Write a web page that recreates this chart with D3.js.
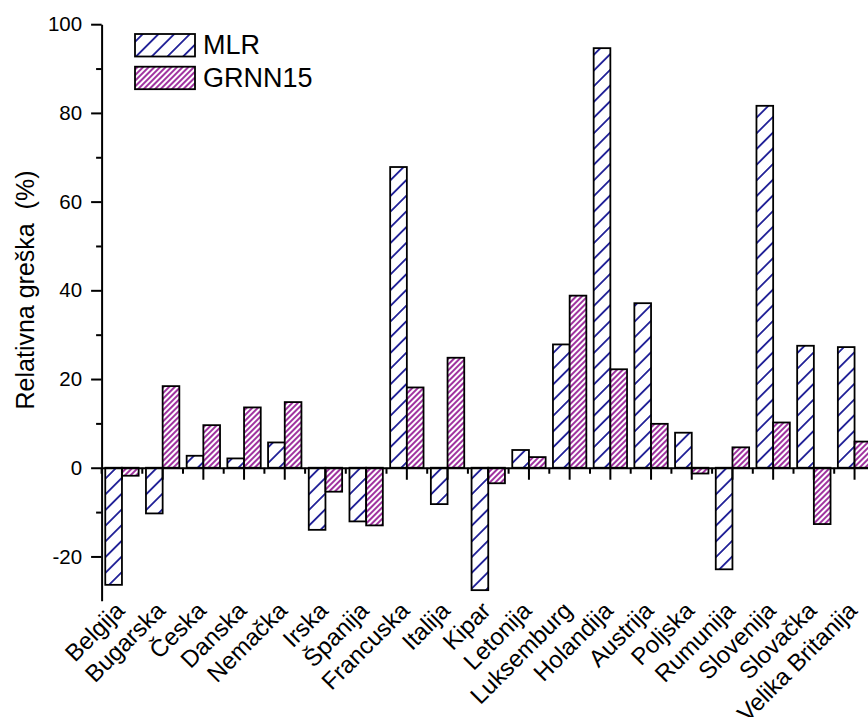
<!DOCTYPE html>
<html>
<head>
<meta charset="utf-8">
<script src="https://cdn.jsdelivr.net/npm/d3@7"></script>
<style>
  html, body { margin: 0; padding: 0; background: #fff; }
  svg { display: block; font-family: "Liberation Sans", Arial, sans-serif; }
</style>
</head>
<body>
<svg id="chart" width="868" height="717"></svg>
<script>
// Relative error of the two models per country
const categories = ["Belgija", "Bugarska", "Česka", "Danska", "Nemačka", "Irska", "Španija",
  "Francuska", "Italija", "Kipar", "Letonija", "Luksemburg", "Holandija", "Austrija",
  "Poljska", "Rumunija", "Slovenija", "Slovačka", "Velika Britanija"];
const seriesNames = ["MLR", "GRNN15"];
const mlrValues = [-26.4, -10.3, 2.7, 2.1, 5.7, -14.0, -12.1, 67.8, -8.2, -27.6, 4.0, 27.8,
  94.6, 37.1, 7.9, -22.9, 81.6, 27.5, 27.2];
const grnnValues = [-1.8, 18.4, 9.6, 13.6, 14.8, -5.4, -13.0, 18.1, 24.8, -3.5, 2.4, 38.8,
  22.2, 9.9, -1.3, 4.6, 10.2, -12.7, 5.9];
const yTickValues = [-20, 0, 20, 40, 60, 80, 100];
const yMinorValues = [-10, 10, 30, 50, 70, 90];
const yTitle = "Relativna greška  (%)";

const svg = d3.select("#chart");
const defs = svg.append("defs");

// Hatch fills: sparse navy "/" for MLR, dense purple "/" for GRNN15
function hatch(id, spacing, color, width) {
  const p = defs.append("pattern")
    .attr("id", id)
    .attr("patternUnits", "userSpaceOnUse")
    .attr("width", spacing)
    .attr("height", spacing)
    .attr("patternTransform", "rotate(45)");
  p.append("rect").attr("width", spacing).attr("height", spacing).attr("fill", "#fff");
  p.append("line")
    .attr("x1", spacing / 2).attr("x2", spacing / 2)
    .attr("y1", -1).attr("y2", spacing + 1)
    .attr("stroke", color).attr("stroke-width", width);
}
hatch("hatch-mlr", 11.1, "#000088", 1.6);
hatch("hatch-grnn", 4.0, "#880088", 1.6);
const fills = { "MLR": "url(#hatch-mlr)", "GRNN15": "url(#hatch-grnn)" };

const x0 = d3.scaleBand().domain(categories).range([101.6, 874.9])
  .paddingInner(0.18).paddingOuter(0.09);
const x1 = d3.scaleBand().domain(seriesNames).range([0, x0.bandwidth()]);
const y = d3.scaleLinear().domain([-30, 100]).range([600.8, 24.2]);

const rows = categories.map((c, i) => ({
  cat: c,
  vals: [{ s: "MLR", v: mlrValues[i] }, { s: "GRNN15", v: grnnValues[i] }]
}));

// Bars
const groups = svg.append("g").selectAll("g").data(rows).join("g")
  .attr("transform", d => `translate(${x0(d.cat)},0)`);
groups.selectAll("rect").data(d => d.vals).join("rect")
  .attr("x", d => x1(d.s))
  .attr("width", x1.bandwidth())
  .attr("y", d => y(Math.max(0, d.v)))
  .attr("height", d => Math.abs(y(d.v) - y(0)))
  .attr("fill", d => fills[d.s])
  .attr("stroke", "#000")
  .attr("stroke-width", 1.8);

// Y axis with major and minor ticks
const yAxis = svg.append("g").attr("transform", "translate(101.6,0)")
  .call(d3.axisLeft(y).tickValues(yTickValues).tickSize(10.5).tickSizeOuter(0).tickPadding(9)
    .tickFormat(d => String(d)));
yAxis.select(".domain").attr("stroke", "#000").attr("stroke-width", 2);
yAxis.selectAll(".tick line").attr("stroke", "#000").attr("stroke-width", 2);
yAxis.selectAll(".tick text").attr("font-size", 20.5).attr("fill", "#000")
  .attr("font-family", "'Liberation Sans', Arial, sans-serif");
svg.append("g").attr("transform", "translate(101.6,0)")
  .call(d3.axisLeft(y).tickValues(yMinorValues).tickSize(5.5).tickSizeOuter(0).tickFormat(""))
  .call(g => g.select(".domain").remove())
  .selectAll(".tick line").attr("stroke", "#000").attr("stroke-width", 2);

// X axis along zero: major ticks at category centres, minor ticks between them
const xAxis = svg.append("g").attr("transform", `translate(0,${y(0)})`)
  .call(d3.axisBottom(x0).tickSize(12).tickSizeOuter(0).tickFormat(""));
xAxis.select(".domain").attr("stroke", "#000").attr("stroke-width", 2);
xAxis.selectAll(".tick line").attr("stroke", "#000").attr("stroke-width", 2);
const step = x0.step();
const minorX = categories.map((c, i) => x0.range()[0] + i * step);
svg.append("g").selectAll("line").data(minorX).join("line")
  .attr("x1", d => d).attr("x2", d => d)
  .attr("y1", y(0)).attr("y2", y(0) + 6)
  .attr("stroke", "#000").attr("stroke-width", 2);

// Rotated category labels below the plot
svg.append("g").selectAll("text").data(categories).join("text")
  .attr("transform", d => `translate(${x0(d) + x0.bandwidth() / 2 + 4},612) rotate(-45)`)
  .attr("text-anchor", "end")
  .attr("font-size", 24)
  .attr("fill", "#000")
  .text(d => d);

// Y axis title
svg.append("text")
  .attr("transform", "translate(34,290) rotate(-90)")
  .attr("text-anchor", "middle")
  .attr("font-size", 25)
  .attr("fill", "#000")
  .attr("xml:space", "preserve")
  .style("white-space", "pre")
  .text(yTitle);

// Legend
const legend = svg.append("g").selectAll("g").data(seriesNames).join("g")
  .attr("transform", (d, i) => `translate(135,${34 + i * 32.7})`);
legend.append("rect")
  .attr("width", 60).attr("height", 22.5)
  .attr("fill", d => fills[d])
  .attr("stroke", "#000").attr("stroke-width", 1.8);
legend.append("text")
  .attr("x", 68).attr("y", 20.3)
  .attr("font-size", 27)
  .attr("fill", "#000")
  .text(d => d);
</script>
</body>
</html>
